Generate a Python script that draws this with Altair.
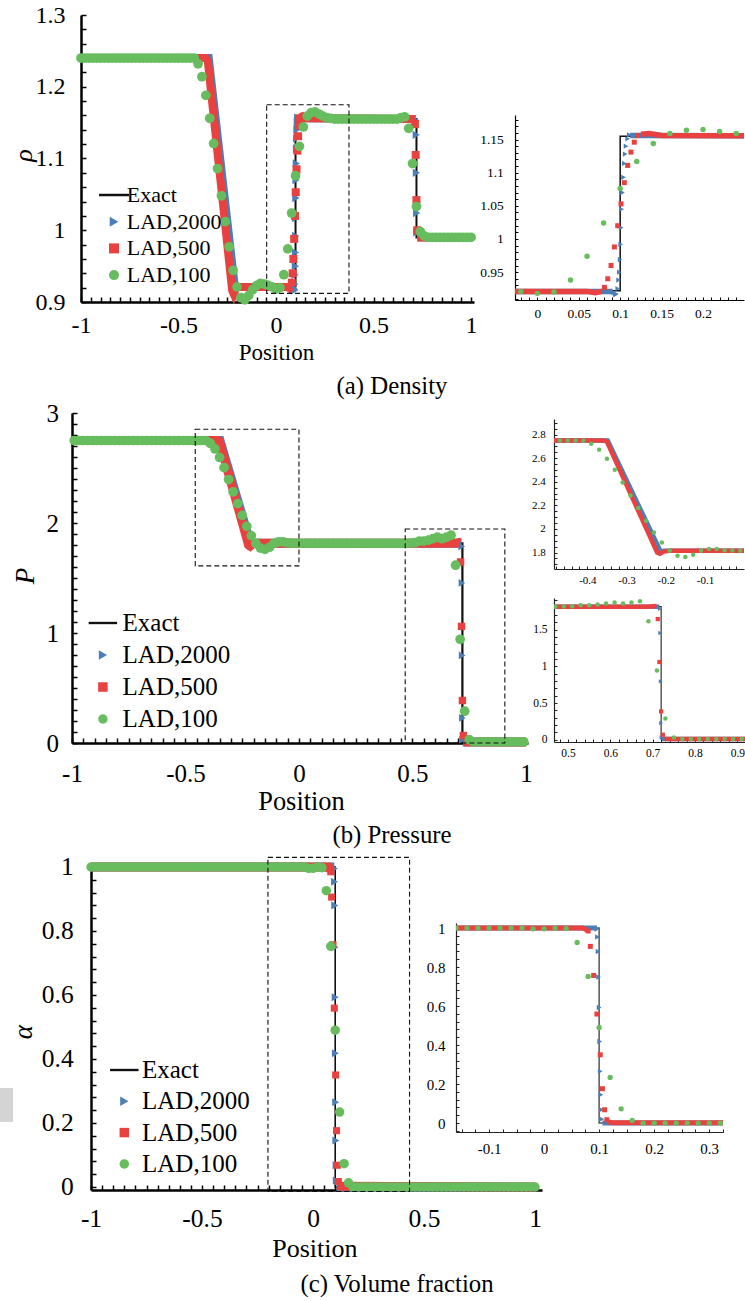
import altair as alt
import numpy as np
import pandas as pd

FONT = "Liberation Serif"
NAMES = ["Exact", "LAD,2000", "LAD,500", "LAD,100"]
COLORS = ["#111111", "#4a7fb8", "#e8413f", "#67bd5e"]
SHAPES = ["M-3,-0.25H3V0.25H-3Z", "triangle-right", "square", "circle"]

# ---------------- (a) Density ----------------
A_EXACT_X = [-1.0, -0.35, -0.215, 0.10, 0.10, 0.72, 0.72, 1.0]
A_EXACT_Y = [1.24, 1.24, 0.922, 0.922, 1.155, 1.155, 0.99, 0.99]
A_BAND2000_X = [-1.0, -0.345, -0.21, -0.20, 0.091, 0.112, 0.13, 0.717, 0.723, 1.0]
A_BAND2000_Y = [1.24, 1.24, 0.918, 0.921, 0.921, 1.156, 1.156, 1.155, 0.99, 0.99]
A_BAND2000_SEG = [0, 0, 0, 0, 0, 1, 1, 1, 2, 2]
A_BAND500_X = [-1.0, -0.36, -0.35, -0.225, -0.217, -0.205, -0.19, 0.06, 0.07, 0.078,
               0.125, 0.135, 0.15, 0.712, 0.728, 1.0]
A_BAND500_Y = [1.24, 1.24, 1.236, 0.916, 0.911, 0.919, 0.921, 0.921, 0.919, 0.921,
               1.158, 1.159, 1.156, 1.155, 0.99, 0.99]
A_BAND500_SEG = [0] * 10 + [1] * 4 + [2] * 2
A_PTS2000_X = [0.092, 0.094, 0.0955, 0.097, 0.098, 0.099, 0.0998, 0.1006, 0.1012, 0.1018,
               0.1028, 0.104, 0.105, 0.106, 0.107, 0.109, 0.111,
               0.718, 0.719, 0.720, 0.721, 0.722]
A_PTS2000_Y = [0.919, 0.916, 0.917, 0.925, 0.938, 0.950, 0.969, 0.992, 1.017, 1.045,
               1.070, 1.093, 1.114, 1.128, 1.140, 1.151, 1.157,
               1.153, 1.133, 1.080, 1.024, 0.997]
A_PTS500_X = [0.081, 0.085, 0.089, 0.093, 0.097, 0.101, 0.105, 0.109, 0.113, 0.117, 0.121,
              0.712, 0.716, 0.720, 0.724]
A_PTS500_Y = [0.927, 0.940, 0.960, 0.988, 1.020, 1.053, 1.085, 1.111, 1.131, 1.146, 1.156,
              1.148, 1.105, 1.042, 1.000]
A_PTS100_X = np.round(np.arange(-1.0, 1.0001, 0.02), 2)
A_PTS100_Y = ([1.24] * 30 +
              [1.232, 1.214, 1.188, 1.156, 1.121, 1.086, 1.048, 1.012, 0.977, 0.944,
               0.921, 0.906, 0.903, 0.909, 0.917, 0.923, 0.926, 0.925, 0.923, 0.921,
               0.918, 0.920, 0.938, 0.974, 1.024, 1.076, 1.117, 1.144, 1.159, 1.164,
               1.165, 1.162, 1.159, 1.157, 1.156] +
              [1.155] * 17 +
              [1.157, 1.158, 1.142, 1.093, 1.033, 0.998, 0.992] +
              [0.99] * 12)
A_BOX = {"x0": [-0.048], "x1": [0.374], "y0": [0.912], "y1": [1.175]}

# ---------------- (b) Pressure ----------------
B_EXACT_X = [-1.0, -0.35, -0.215, 0.72, 0.72, 1.0]
B_EXACT_Y = [2.75, 2.75, 1.815, 1.815, 0.01, 0.01]
B_BAND2000_X = [-1.0, -0.348, -0.213, -0.205, 0.716, 0.722, 1.0]
B_BAND2000_Y = [2.75, 2.75, 1.808, 1.815, 1.815, 0.01, 0.01]
B_BAND2000_SEG = [0] * 5 + [1] * 2
B_BAND500_X = [-1.0, -0.358, -0.350, -0.222, -0.215, -0.205, -0.19, 0.69, 0.705, 0.709, 0.728, 1.0]
B_BAND500_Y = [2.75, 2.75, 2.74, 1.80, 1.79, 1.808, 1.815, 1.815, 1.822, 1.818, 0.01, 0.01]
B_BAND500_SEG = [0] * 10 + [1] * 2
B_PTS2000_X = [0.717, 0.718, 0.719, 0.720, 0.721]
B_PTS2000_Y = [1.787, 1.455, 0.796, 0.228, 0.030]
B_PTS500_X = [0.712, 0.716, 0.720, 0.724]
B_PTS500_Y = [1.646, 1.060, 0.386, 0.068]
B_PTS100_X = np.round(np.arange(-0.99, 0.9901, 0.02), 2)
B_PTS100_Y = ([2.75] * 29 +
              [2.749, 2.723, 2.673, 2.596, 2.503, 2.395, 2.284, 2.177, 2.069, 1.970,
               1.885, 1.814, 1.772, 1.761, 1.780, 1.814, 1.829, 1.829, 1.820, 1.816, 1.815] +
              [1.815] * 24 +
              [1.818, 1.821, 1.835, 1.835, 1.844, 1.857, 1.871, 1.857, 1.871, 1.889,
               1.616, 0.943, 0.289, 0.030] +
              [0.01] * 12)
B_BOX = {"x0": [-0.457, 0.468], "x1": [0.0, 0.907], "y0": [1.61, 0.0], "y1": [2.852, 1.945]}

# ---------------- (c) Volume fraction ----------------
C_EXACT_X = [-1.0, 0.10, 0.10, 1.0]
C_EXACT_Y = [1.0, 1.0, 0.0, 0.0]
C_BAND2000_X = [-1.0, 0.096, 0.106, 1.0]
C_BAND2000_Y = [1.0, 1.0, 0.0, 0.0]
C_BAND2000_SEG = [0, 0, 1, 1]
C_BAND500_X = [-1.0, 0.07, 0.078, 0.116, 0.124, 1.0]
C_BAND500_Y = [1.0, 1.0, 0.99, 0.006, 0.002, 0.0]
C_BAND500_SEG = [0, 0, 0, 1, 1, 1]
C_PTS2000_X = [0.096, 0.097, 0.098, 0.099, 0.100, 0.101, 0.102, 0.103, 0.104, 0.105]
C_PTS2000_Y = [0.995, 0.954, 0.880, 0.749, 0.593, 0.418, 0.265, 0.145, 0.068, 0.020]
C_PTS500_X = [0.080, 0.084, 0.090, 0.096, 0.102, 0.106, 0.110, 0.114]
C_PTS500_Y = [0.985, 0.906, 0.757, 0.559, 0.350, 0.176, 0.068, 0.017]
C_PTS100_X = np.round(np.arange(-1.0, 1.0001, 0.02), 2)
C_PTS100_Y = ([1.0] * 49 +
              [0.996, 0.996, 1.0, 0.998, 0.926, 0.752, 0.490, 0.234, 0.073, 0.013] +
              [0.0] * 42)
C_BOX = {"x0": [-0.203], "x1": [0.435], "y0": [-0.014], "y1": [1.03]}

CAPTIONS = ["(a) Density", "(b) Pressure", "(c) Volume fraction"]


def line_df(xs, ys, seg=None):
    d = pd.DataFrame({"x": list(xs), "y": list(ys)})
    d["i"] = range(len(d))
    d["seg"] = seg if seg is not None else 0
    return d


def pts_df(xs, ys, series):
    return pd.DataFrame({"x": list(xs), "y": list(ys), "series": series})


def panel_data(p):
    g = globals()
    return {
        "exact": line_df(g[p + "_EXACT_X"], g[p + "_EXACT_Y"]),
        "b2000": line_df(g[p + "_BAND2000_X"], g[p + "_BAND2000_Y"], g[p + "_BAND2000_SEG"]),
        "b500": line_df(g[p + "_BAND500_X"], g[p + "_BAND500_Y"], g[p + "_BAND500_SEG"]),
        "p2000": pts_df(g[p + "_PTS2000_X"], g[p + "_PTS2000_Y"], "LAD,2000"),
        "p500": pts_df(g[p + "_PTS500_X"], g[p + "_PTS500_Y"], "LAD,500"),
        "p100": pts_df(g[p + "_PTS100_X"], g[p + "_PTS100_Y"], "LAD,100"),
        "box": pd.DataFrame(g[p + "_BOX"]),
    }


def ax(dom, major, minor, fs, lp, ts, dw, tw, orient, title=None, tfs=20, tx=0, ty=0, italic=False,
       color="#000"):
    lo, hi = dom
    k0 = int(np.ceil(lo / minor - 1e-6))
    k1 = int(np.floor(hi / minor + 1e-6))
    vals = [round(k * minor, 6) for k in range(k0, k1 + 1)]
    expr = ("abs(datum.value / %s - round(datum.value / %s)) < 1e-4 ? "
            "(datum.value < 0 ? '-' : '') + format(abs(datum.value), '~g') : ''") % (major, major)
    kw = dict(values=vals, labelExpr=expr, grid=False, labelFont=FONT, labelFontSize=fs,
              labelColor="#000", labelPadding=lp, labelOverlap=False, labelFlush=False,
              tickSize={"expr": str(-ts)}, tickColor=color, tickWidth=tw,
              domainColor=color, domainWidth=dw)
    if orient == "bottom":
        kw["labelBaseline"] = "middle"
    if title:
        kw.update(title=title, titleFont=FONT, titleFontSize=tfs, titleColor="#000",
                  titleFontWeight="normal", titleX=tx, titleY=ty,
                  titleBaseline="middle", titleAlign="center")
        if italic:
            kw["titleFontStyle"] = "italic"
    else:
        kw["title"] = None
    return alt.Axis(**kw)


def legend(lx, ly, fs, size, rp, lo):
    return alt.Legend(
        orient="none", legendX=lx, legendY=ly, title=None, labelFont=FONT, labelFontSize=fs,
        labelColor="#000", symbolSize=size, rowPadding=rp, labelOffset=lo, padding=0,
        symbolOpacity=1, symbolStrokeWidth=0)


def panel(D, xdom, ydom, w, h, st, xaxis, yaxis, leg, clip, box=True):
    xs = alt.Scale(domain=list(xdom), nice=False, zero=False)
    ys = alt.Scale(domain=list(ydom), nice=False, zero=False)
    X = alt.X("x:Q", scale=xs, axis=xaxis)
    Y = alt.Y("y:Q", scale=ys, axis=yaxis)
    col = alt.Color("series:N", scale=alt.Scale(domain=NAMES, range=COLORS), legend=leg)
    shp = alt.Shape("series:N", scale=alt.Scale(domain=NAMES, range=SHAPES), legend=leg)
    layers = [
        alt.Chart(D["exact"]).mark_line(strokeWidth=st["ew"], color=st.get("ec", COLORS[0]),
                                        clip=clip).encode(x=X, y=Y, order=alt.Order("i:Q")),
        alt.Chart(D["b2000"]).mark_line(strokeWidth=st["bw"], color=COLORS[1], clip=clip).encode(
            x=X, y=Y, detail="seg:N", order=alt.Order("i:Q")),
        alt.Chart(D["p2000"]).mark_point(filled=True, opacity=1, size=st["s2000"], clip=clip).encode(
            x=X, y=Y, color=col, shape=shp),
        alt.Chart(D["b500"]).mark_line(strokeWidth=st["bw"], color=COLORS[2], clip=clip).encode(
            x=X, y=Y, detail="seg:N", order=alt.Order("i:Q")),
        alt.Chart(D["p500"]).mark_point(filled=True, opacity=1, size=st["s500"], clip=clip).encode(
            x=X, y=Y, color=col, shape=shp),
        alt.Chart(D["p100"]).mark_point(filled=True, opacity=1, size=st["s100"], clip=clip).encode(
            x=X, y=Y, color=col, shape=shp),
    ]
    if box:
        layers.append(
            alt.Chart(D["box"]).mark_rect(fill="transparent", stroke="#111", strokeWidth=1.1,
                                          strokeDash=[5, 3]).encode(
                x=alt.X("x0:Q", scale=xs, axis=xaxis), x2="x1:Q",
                y=alt.Y("y0:Q", scale=ys, axis=yaxis), y2="y1:Q"))
    return alt.layer(*layers).properties(width=w, height=h)


SP = pd.DataFrame({"v": [0]})


def spacer(w, h, **props):
    return alt.Chart(SP).mark_point(size=0, opacity=0).encode(
        x=alt.value(0), y=alt.value(0)).properties(width=w, height=h, **props)


def res(c):
    return c.resolve_scale(color="independent", shape="independent")


def place(ch, x, y):
    colm = res(alt.vconcat(spacer(1, y), ch, spacing=0, bounds="flush"))
    if x <= 0:
        return colm
    return res(alt.hconcat(spacer(x, 1), colm, spacing=0, bounds="flush"))


def caption(text, w=220):
    return spacer(w, 1, title=alt.TitleParams(text, orient="bottom", anchor="middle", offset=0,
                                               font=FONT, fontSize=24.8, fontWeight="normal",
                                               color="#000", baseline="middle"))


DA, DB, DC = panel_data("A"), panel_data("B"), panel_data("C")

mA = panel(DA, (-1, 1.015), (0.9, 1.3), 393, 287,
           dict(ew=2, bw=8, s2000=70, s500=64, s100=95),
           ax((-1, 1.015), 0.5, 0.05, 24, 28, 5, 2.5, 1.5, "bottom", "Position", 23, 195, 50),
           ax((0.9, 1.3), 0.1, 0.02, 24, 21, 5, 2.5, 1.5, "left", "ρ", 26, -58, 140, True),
           legend(22, 169, 22, 100, 4.7, 1.7), False)
iA = panel(DA, (-0.027, 0.2495), (0.908, 1.187), 229, 185,
           dict(ew=1.5, bw=5.5, s2000=28, s500=25, s100=30),
           ax((-0.027, 0.2495), 0.05, 0.01, 13.5, 16, 3, 1.2, 1, "bottom"),
           ax((0.908, 1.187), 0.05, 0.01, 13.5, 14.7, 3, 1.2, 1, "left"),
           None, True, box=False)
mB = panel(DB, (-1, 1.009), (0, 3), 456, 330,
           dict(ew=2.2, bw=9, s2000=60, s500=55, s100=95),
           ax((-1, 1.009), 0.5, 0.05, 25, 35, 5, 2.5, 1.5, "bottom", "Position", 26.4, 229, 58),
           ax((0, 3), 1, 0.1, 25, 18.5, 5, 2.5, 1.5, "left", "P", 27, -46.3, 162.5, True),
           legend(18.4, 197.5, 25, 90, 6, 7.2), False)
iB1 = panel(DB, (-0.485, -0.0005), (1.66, 2.933), 190, 150,
            dict(ew=1.2, bw=4.5, s2000=20, s500=18, s100=20, ec="#333333"),
            ax((-0.485, -0.0005), 0.1, 0.02, 11, 14, 3, 1.2, 1, "bottom", color="#222"),
            ax((1.66, 2.933), 0.2, 0.05, 11, 11.7, 3, 1.2, 1, "left", color="#222"),
            None, True, box=False)
iB2 = panel(DB, (0.467, 0.918), (-0.031, 1.933), 191, 144,
            dict(ew=1.2, bw=4.5, s2000=20, s500=18, s100=20, ec="#333333"),
            ax((0.467, 0.918), 0.1, 0.02, 11.5, 14, 3, 1.2, 1, "bottom", color="#222"),
            ax((-0.031, 1.933), 0.5, 0.1, 11.5, 10, 3, 1.2, 1, "left", color="#222"),
            None, True, box=False)
mC = panel(DC, (-1, 1.0315), (-0.0094, 1.0125), 451, 327,
           dict(ew=1.6, bw=9, s2000=65, s500=50, s100=90),
           ax((-1, 1.0315), 0.5, 0.05, 25.5, 33, 5, 2.5, 1.5, "bottom", "Position", 26, 223.3, 58.3),
           ax((-0.0094, 1.0125), 0.2, 0.04, 25.5, 22.8, 5, 2.5, 1.5, "left", "α", 27, -67.8, 168.7, True),
           legend(20.8, 194.5, 25, 90, 5.3, 5.2), False)
iC = panel(DC, (-0.16, 0.325), (-0.046, 1.026), 267, 209,
           dict(ew=1.5, bw=5, s2000=30, s500=25, s100=28, ec="#555555"),
           ax((-0.16, 0.325), 0.1, 0.025, 15, 19, 3, 1.2, 1, "bottom", color="#222"),
           ax((-0.046, 1.026), 0.2, 0.04, 15, 14, 3, 1.2, 1, "left", color="#222"),
           None, True, box=False)

gray = spacer(13, 34, view=alt.ViewBackground(fill="#d4d4d4", stroke=None))

items = [
    place(mA, 81, 15), place(iA, 514.7, 115), place(caption(CAPTIONS[0]), 282, 386),
    place(mB, 71.6, 413), place(iB1, 553.7, 419), place(iB2, 553.7, 598),
    place(caption(CAPTIONS[1]), 282, 835),
    place(mC, 91, 863), place(iC, 456, 923), place(caption(CAPTIONS[2]), 287, 1284),
    place(gray, 0, 1088),
]

chart = res(alt.hconcat(*items, spacing=0, bounds="flush")).properties(
    padding=0, background="white"
).configure(font=FONT).configure_view(stroke=None)

chart.save("out.html", embed_options={"renderer": "svg", "actions": False})
